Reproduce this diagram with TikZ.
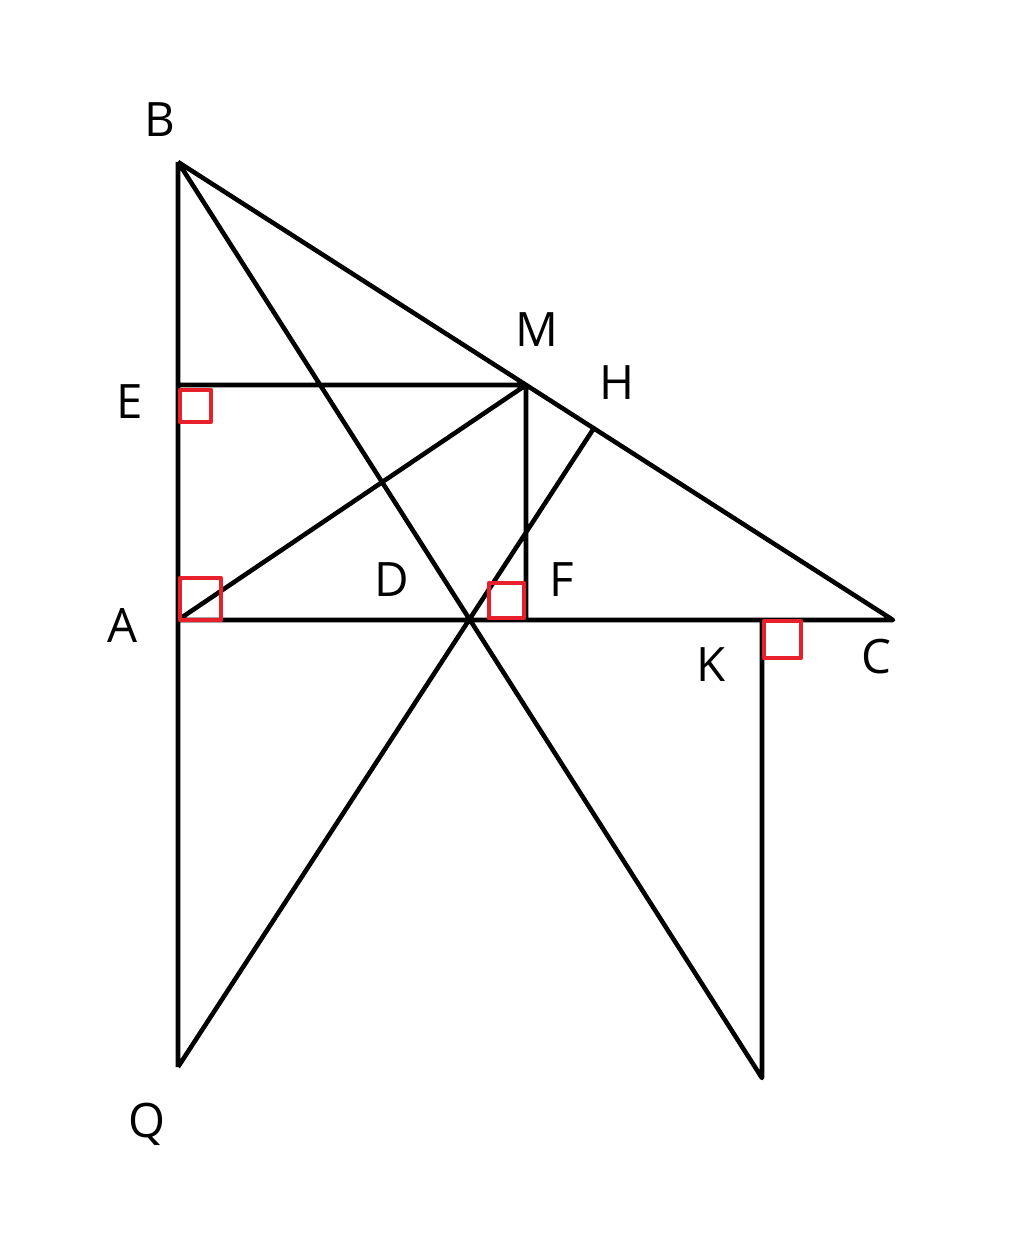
\documentclass[tikz,border=0pt]{standalone}
\usepackage{fontspec}
\setmainfont{Open Sans}
\usetikzlibrary{positioning}
\definecolor{markred}{RGB}{232,32,44}

\begin{document}
\begin{tikzpicture}[x=0.02cm,y=-0.02cm,
	line width=2.6pt, line join=round,
	lbl/.style={font=\fontsize{27}{30}\selectfont, inner sep=0pt},
	rightangle/.style={draw=markred, line width=2.6pt}]
			\useasboundingbox (0,0) rectangle (1024,1260);

			\coordinate (B) at (178,162);
			\coordinate (A) at (178,620);
			\coordinate (C) at (893,620);
			\coordinate (E) at (178,385);
			\coordinate (M) at (526,385);
			\coordinate (F) at (526,620);
			\coordinate (H) at (594,428);
			\coordinate (D) at (469,620);
			\coordinate (K) at (762,620);
			\coordinate (Q) at (178,1067);
			\coordinate (P) at (762,1078);

			\node[lbl] (lB) at (160,120) {B};
			\node[lbl] (lM) at (537,330) {M};
			\node[lbl] (lH) at (617,383) {H};
			\node[lbl] (lE) at (130,402) {E};
			\node[lbl] (lA) at (123,625) {A};
			\node[lbl] (lD) at (392,580) {D};
			\node[lbl] (lF) at (562,580) {F};
			\node[lbl] (lK) at (711,665) {K};
			\node[lbl] (lC) at (876,657) {C};
			\node[lbl] (lQ) at (147,1124) {Q};

			\draw (B) -- (Q)
				(B) -- (C) -- (A)
				(E) -- (M) -- (F)
				(A) -- (M)
				(B) -- (P) -- (K)
				(Q) -- (H);

			\draw[rightangle] (180,390) rectangle (211,422);
			\draw[rightangle] (180,578) rectangle (221,620);
			\draw[rightangle] (489,583) rectangle (524,618);
			\draw[rightangle] (764,621) rectangle (801,658);
		\end{tikzpicture}
\end{document}
